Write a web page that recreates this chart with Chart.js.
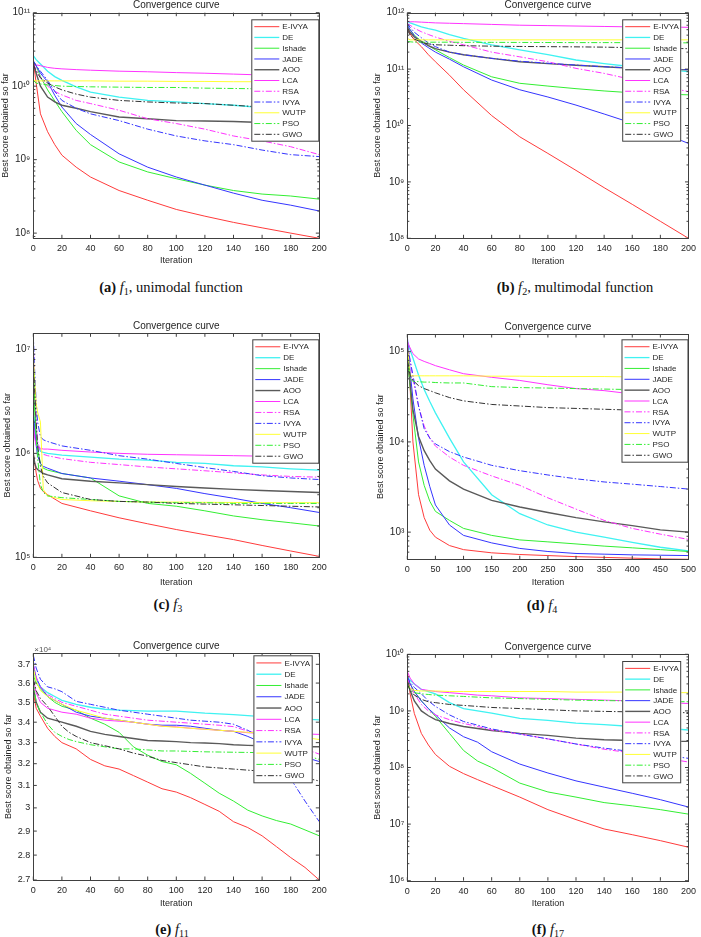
<!DOCTYPE html>
<html>
<head>
<meta charset="utf-8">
<script src="https://cdn.jsdelivr.net/npm/chart.js@4.4.1/dist/chart.umd.min.js"></script>
<style>
  html, body { margin: 0; padding: 0; background: #fff; }
  #page { position: relative; width: 701px; height: 937px; overflow: hidden; background: #fff; }
  canvas { position: absolute; }
  .cap {
    position: absolute; transform: translate(-50%, -50%); white-space: nowrap;
    font: 14.5px "Liberation Serif", "Times New Roman", serif; color: #111;
  }
  .cap sub { font-size: 0.7em; line-height: 0; vertical-align: -0.3em; }
</style>
</head>
<body>
<div id="page">
  <canvas id="cF1"></canvas>
  <canvas id="cF2"></canvas>
  <canvas id="cF3"></canvas>
  <canvas id="cF4"></canvas>
  <canvas id="cF11"></canvas>
  <canvas id="cF17"></canvas>
  <div class="cap" style="left:171px;top:287px"><b>(a)</b> <i>f</i><sub>1</sub>, unimodal function</div>
  <div class="cap" style="left:575px;top:287px"><b>(b)</b> <i>f</i><sub>2</sub>, multimodal function</div>
  <div class="cap" style="left:168px;top:604px"><b>(c)</b> <i>f</i><sub>3</sub></div>
  <div class="cap" style="left:542px;top:605px"><b>(d)</b> <i>f</i><sub>4</sub></div>
  <div class="cap" style="left:172px;top:929px"><b>(e)</b> <i>f</i><sub>11</sub></div>
  <div class="cap" style="left:548px;top:929px"><b>(f)</b> <i>f</i><sub>17</sub></div>
</div>
<script>
const seriesNames = ["E-IVYA", "DE", "Ishade", "JADE", "AOO", "LCA", "RSA", "IVYA", "WUTP", "PSO", "GWO"];

// f1
const itersF1 = [0, 2, 5, 10, 15, 20, 30, 40, 60, 80, 100, 120, 140, 160, 180, 200];
const f1EIVYA = [2.2e10, 1.1e10, 4.2e9, 2.4e9, 1.6e9, 1.15e9, 7.9e8, 5.8e8, 3.8e8, 2.8e8, 2.1e8, 1.7e8, 1.4e8, 1.18e8, 1.0e8, 8.5e7];
const f1DE = [2.6e10, 2.3e10, 2.0e10, 1.6e10, 1.35e10, 1.2e10, 9.8e9, 8.3e9, 7.1e9, 6.4e9, 6.1e9, 5.8e9, 5.5e9, 5.1e9, 4.7e9, 4.3e9];
const f1Ishade = [2.2e10, 1.9e10, 1.35e10, 8.9e9, 6.3e9, 4.5e9, 2.5e9, 1.6e9, 9.3e8, 6.8e8, 5.5e8, 4.5e8, 3.8e8, 3.4e8, 3.2e8, 2.9e8];
const f1JADE = [2.2e10, 1.9e10, 1.5e10, 1.15e10, 7.5e9, 5.2e9, 3.1e9, 2.2e9, 1.2e9, 7.9e8, 5.8e8, 4.5e8, 3.5e8, 2.8e8, 2.4e8, 2.0e8];
const f1AOO = [2.0e10, 1.5e10, 1.0e10, 7.1e9, 6.1e9, 5.5e9, 5.0e9, 4.5e9, 3.8e9, 3.6e9, 3.4e9, 3.35e9, 3.3e9, 3.2e9, 3.0e9, 2.95e9];
const f1LCA = [2.0e10, 1.95e10, 1.9e10, 1.8e10, 1.75e10, 1.72e10, 1.68e10, 1.65e10, 1.6e10, 1.57e10, 1.53e10, 1.5e10, 1.46e10, 1.42e10, 1.4e10, 1.37e10];
const f1RSA = [2.0e10, 1.7e10, 1.3e10, 1.0e10, 8.5e9, 7.6e9, 6.4e9, 5.8e9, 4.7e9, 3.6e9, 3.1e9, 2.6e9, 2.1e9, 1.8e9, 1.5e9, 1.17e9];
const f1IVYA = [2.2e10, 1.9e10, 1.6e10, 1.2e10, 8.5e9, 6.4e9, 5.0e9, 4.2e9, 3.4e9, 2.6e9, 2.1e9, 1.8e9, 1.6e9, 1.35e9, 1.17e9, 1.1e9];
const f1WUTP = [1.2e10, 1.18e10, 1.18e10, 1.18e10, 1.18e10, 1.18e10, 1.18e10, 1.18e10, 1.17e10, 1.17e10, 1.16e10, 1.16e10, 1.15e10, 1.15e10, 1.14e10, 1.13e10];
const f1PSO = [1.2e10, 1.1e10, 1.07e10, 1.04e10, 1.02e10, 1.0e10, 9.9e9, 9.8e9, 9.7e9, 9.6e9, 9.6e9, 9.4e9, 9.3e9, 9.2e9, 9.1e9, 9.0e9];
const f1GWO = [2.0e10, 1.6e10, 1.3e10, 1.1e10, 9.8e9, 8.9e9, 7.8e9, 7.1e9, 6.4e9, 6.1e9, 5.9e9, 5.8e9, 5.5e9, 5.2e9, 5.0e9, 4.9e9];

// f2
const itersF2 = [0, 2, 5, 10, 15, 20, 30, 40, 60, 80, 100, 120, 140, 160, 180, 200];
const f2EIVYA = [5.6e11, 4.2e11, 3.3e11, 2.5e11, 1.8e11, 1.35e11, 7.8e10, 4.3e10, 1.5e10, 6.3e9, 3.2e9, 1.6e9, 7.9e8, 4.0e8, 2.0e8, 1.0e8];
const f2DE = [7e11, 6.6e11, 6.2e11, 5.6e11, 5.2e11, 4.9e11, 4.1e11, 3.5e11, 2.7e11, 2.2e11, 1.8e11, 1.45e11, 1.25e11, 1.1e11, 1.0e11, 9e10];
const f2Ishade = [6e11, 5e11, 4e11, 3.1e11, 2.6e11, 2.2e11, 1.6e11, 1.18e11, 7.3e10, 5.6e10, 5e10, 4.5e10, 4.1e10, 3.8e10, 3.6e10, 3.5e10];
const f2JADE = [6e11, 5e11, 3.9e11, 2.9e11, 2.4e11, 2.0e11, 1.5e11, 1.1e11, 6.4e10, 4.3e10, 3.2e10, 2.3e10, 1.6e10, 1.1e10, 7.7e9, 4.8e9];
const f2AOO = [5.5e11, 4.5e11, 3.7e11, 3.1e11, 2.6e11, 2.3e11, 2.0e11, 1.8e11, 1.55e11, 1.35e11, 1.25e11, 1.17e11, 1.1e11, 1.03e11, 1.0e11, 9.7e10];
const f2LCA = [7e11, 6.9e11, 6.9e11, 6.8e11, 6.7e11, 6.6e11, 6.5e11, 6.4e11, 6.2e11, 6.0e11, 5.9e11, 5.8e11, 5.7e11, 5.6e11, 5.6e11, 5.5e11];
const f2RSA = [6.5e11, 6e11, 5.3e11, 4.6e11, 4.1e11, 3.7e11, 3.1e11, 2.7e11, 2.0e11, 1.65e11, 1.35e11, 1.03e11, 8.4e10, 6.5e10, 5e10, 4.0e10];
const f2IVYA = [6.5e11, 5.5e11, 4.5e11, 3.6e11, 2.9e11, 2.5e11, 2.0e11, 1.8e11, 1.55e11, 1.38e11, 1.27e11, 1.18e11, 1.1e11, 1.05e11, 1.0e11, 9.8e10];
const f2WUTP = [3.5e11, 3.3e11, 3.3e11, 3.3e11, 3.3e11, 3.3e11, 3.3e11, 3.3e11, 3.3e11, 3.3e11, 3.3e11, 3.3e11, 3.3e11, 3.3e11, 3.3e11, 3.3e11];
const f2PSO = [3.1e11, 3.05e11, 3.0e11, 3.0e11, 3.0e11, 3.0e11, 3.0e11, 2.98e11, 2.98e11, 2.97e11, 2.96e11, 2.95e11, 2.95e11, 2.94e11, 2.93e11, 2.92e11];
const f2GWO = [5e11, 4e11, 3.4e11, 3.0e11, 2.8e11, 2.7e11, 2.65e11, 2.6e11, 2.55e11, 2.52e11, 2.5e11, 2.48e11, 2.45e11, 2.4e11, 2.35e11, 2.3e11];

// f3
const itersF3 = [0, 1, 2, 3, 5, 7, 10, 20, 40, 60, 80, 100, 120, 140, 160, 180, 200];
const f3EIVYA = [1.0e6, 8e5, 6.5e5, 5.5e5, 4.6e5, 4.3e5, 4.0e5, 3.3e5, 2.8e5, 2.4e5, 2.1e5, 1.85e5, 1.65e5, 1.48e5, 1.3e5, 1.15e5, 1.02e5];
const f3DE = [2.5e6, 1.8e6, 1.4e6, 1.2e6, 1.05e6, 1.02e6, 1.0e6, 9.6e5, 9.2e5, 8.8e5, 8.6e5, 8.2e5, 8.0e5, 7.6e5, 7.4e5, 7.1e5, 6.9e5];
const f3Ishade = [5e6, 2.5e6, 1.5e6, 1.1e6, 8e5, 7.2e5, 6.9e5, 6.4e5, 5.8e5, 3.9e5, 3.3e5, 3.1e5, 2.8e5, 2.5e5, 2.3e5, 2.15e5, 2.0e5];
const f3JADE = [2.5e6, 1.6e6, 1.2e6, 9.5e5, 8e5, 7.5e5, 7.2e5, 6.4e5, 5.8e5, 5.4e5, 5.0e5, 4.6e5, 4.1e5, 3.7e5, 3.3e5, 3.0e5, 2.7e5];
const f3AOO = [1.0e6, 8e5, 7.3e5, 7e5, 6.7e5, 6.4e5, 6.2e5, 5.7e5, 5.4e5, 5.2e5, 5.0e5, 4.8e5, 4.65e5, 4.5e5, 4.4e5, 4.3e5, 4.2e5];
const f3LCA = [2e6, 1.4e6, 1.2e6, 1.15e6, 1.12e6, 1.1e6, 1.1e6, 1.07e6, 1.03e6, 1.0e6, 9.8e5, 9.7e5, 9.6e5, 9.5e5, 9.4e5, 9.35e5, 9.3e5];
const f3RSA = [1.2e7, 4e6, 2e6, 1.3e6, 1.05e6, 9.8e5, 9.5e5, 8.9e5, 8.2e5, 7.8e5, 7.4e5, 7.1e5, 6.8e5, 6.5e5, 6.2e5, 6.0e5, 5.9e5];
const f3IVYA = [1.4e7, 6e6, 3.1e6, 2e6, 1.45e6, 1.35e6, 1.3e6, 1.18e6, 1.07e6, 9.5e5, 8.8e5, 8.0e5, 7.3e5, 6.7e5, 6.1e5, 5.8e5, 5.6e5];
const f3WUTP = [9e6, 5e6, 3e6, 2.5e6, 2.0e6, 4.5e5, 3.9e5, 3.6e5, 3.5e5, 3.45e5, 3.4e5, 3.4e5, 3.38e5, 3.37e5, 3.36e5, 3.35e5, 3.35e5];
const f3PSO = [8e6, 3e6, 1.5e6, 9e5, 5e5, 4.2e5, 3.9e5, 3.75e5, 3.6e5, 3.45e5, 3.4e5, 3.35e5, 3.35e5, 3.3e5, 3.3e5, 3.3e5, 3.3e5];
const f3GWO = [7e6, 4e6, 2e6, 1.2e6, 7.5e5, 6e5, 5.2e5, 4.2e5, 3.6e5, 3.45e5, 3.4e5, 3.3e5, 3.25e5, 3.2e5, 3.15e5, 3.1e5, 3.05e5];

// f4
const itersF4 = [0, 5, 10, 20, 30, 40, 50, 75, 100, 150, 200, 250, 300, 350, 400, 450, 500];
const f4EIVYA = [1.2e5, 4e4, 1.0e4, 2.6e3, 1.45e3, 1.05e3, 880, 710, 640, 590, 565, 550, 535, 525, 515, 505, 500];
const f4DE = [1.3e5, 1.05e5, 8.5e4, 5.5e4, 3.8e4, 2.8e4, 2.1e4, 1.1e4, 6e3, 2.6e3, 1.6e3, 1.2e3, 1.0e3, 880, 770, 680, 620];
const f4Ishade = [9e4, 4e4, 2e4, 6e3, 3.3e3, 2.2e3, 1.7e3, 1.35e3, 1.1e3, 920, 820, 780, 740, 700, 670, 640, 610];
const f4JADE = [1.5e5, 6e4, 3e4, 1.1e4, 5.5e3, 3.2e3, 2.0e3, 1.2e3, 920, 760, 660, 610, 580, 570, 560, 555, 550];
const f4AOO = [9e4, 4.5e4, 2.3e4, 1.15e4, 8e3, 6.2e3, 5e3, 3.7e3, 3e3, 2.25e3, 1.9e3, 1.65e3, 1.45e3, 1.3e3, 1.18e3, 1.06e3, 1.0e3];
const f4LCA = [1.3e5, 1.1e5, 9.5e4, 8.3e4, 7.8e4, 7.4e4, 7.0e4, 6.3e4, 5.7e4, 5.2e4, 4.8e4, 4.3e4, 3.9e4, 3.7e4, 3.4e4, 3.2e4, 3.0e4];
const f4RSA = [1.2e5, 8e4, 5e4, 2.5e4, 1.5e4, 1.1e4, 9e3, 6.8e3, 5.5e3, 4.2e3, 3.3e3, 2.4e3, 1.8e3, 1.35e3, 1.1e3, 950, 830];
const f4IVYA = [1.2e5, 8e4, 5.5e4, 2.5e4, 1.4e4, 1.1e4, 9.5e3, 7.8e3, 6.8e3, 5.5e3, 4.8e3, 4.3e3, 3.9e3, 3.6e3, 3.4e3, 3.2e3, 3.0e3];
const f4WUTP = [1.2e5, 5.4e4, 5.4e4, 5.4e4, 5.4e4, 5.4e4, 5.4e4, 5.4e4, 5.4e4, 5.35e4, 5.35e4, 5.3e4, 5.3e4, 5.3e4, 5.25e4, 5.2e4, 5.2e4];
const f4PSO = [9e4, 5e4, 4.7e4, 4.65e4, 4.6e4, 4.6e4, 4.55e4, 4.5e4, 4.5e4, 4.1e4, 4.0e4, 3.95e4, 3.9e4, 3.85e4, 3.8e4, 3.75e4, 3.7e4];
const f4GWO = [8e4, 5.5e4, 4.8e4, 4.2e4, 3.9e4, 3.7e4, 3.5e4, 3.1e4, 2.85e4, 2.6e4, 2.5e4, 2.4e4, 2.35e4, 2.3e4, 2.25e4, 2.2e4, 2.2e4];

// f11
const itersF11 = [0, 2, 5, 10, 15, 20, 25, 30, 40, 50, 60, 70, 80, 90, 100, 110, 120, 130, 140, 150, 160, 170, 180, 190, 200];
const f11EIVYA = [35500, 34700, 34300, 33700, 33300, 33000, 32850, 32700, 32200, 31900, 31750, 31450, 31150, 30850, 30700, 30450, 30150, 29850, 29400, 29150, 28800, 28350, 27900, 27500, 27000];
const f11DE = [36600, 36200, 35800, 35500, 35300, 35100, 35000, 34900, 34750, 34650, 34600, 34580, 34550, 34550, 34550, 34500, 34450, 34420, 34380, 34330, 34280, 34250, 34200, 34150, 34120];
const f11Ishade = [36400, 36000, 35700, 35300, 35000, 34800, 34700, 34600, 34200, 33900, 33500, 32800, 32400, 32100, 31950, 31550, 31100, 30650, 30300, 29900, 29650, 29450, 29300, 29050, 28800];
const f11JADE = [37000, 36300, 35800, 35300, 35100, 34900, 34700, 34500, 34300, 34200, 34100, 34000, 33900, 33850, 33850, 33800, 33700, 33600, 33550, 33300, 33000, 32700, 32500, 32300, 32100];
const f11AOO = [35800, 35000, 34500, 34200, 34100, 34000, 33900, 33800, 33550, 33400, 33300, 33200, 33100, 33080, 33050, 33000, 32980, 32950, 32900, 32870, 32850, 32830, 32820, 32800, 32800];
const f11LCA = [36200, 35500, 35000, 34700, 34600, 34500, 34450, 34400, 34200, 34100, 34050, 34000, 33900, 33800, 33770, 33700, 33650, 33600, 33550, 33480, 33450, 33440, 33430, 33420, 33400];
const f11RSA = [37000, 36300, 35800, 35400, 35200, 35000, 34900, 34800, 34600, 34400, 34300, 34200, 34100, 34050, 34000, 33950, 33900, 33850, 33780, 33560, 33400, 33200, 33000, 32700, 32450];
const f11IVYA = [37500, 36800, 36200, 35800, 35700, 35550, 35300, 35050, 34900, 34750, 34600, 34500, 34400, 34300, 34200, 34100, 34050, 34000, 33900, 33600, 33200, 32600, 31300, 30300, 29400];
const f11WUTP = [36800, 36100, 35600, 35300, 35100, 34900, 34750, 34600, 34400, 34200, 34100, 34000, 33900, 33800, 33750, 33700, 33650, 33600, 33550, 33500, 33450, 33400, 33350, 33250, 33150];
const f11PSO = [36000, 35000, 34500, 33900, 33500, 33300, 33150, 33050, 32900, 32800, 32700, 32700, 32650, 32600, 32600, 32580, 32560, 32550, 32540, 32530, 32520, 32510, 32500, 32400, 32200];
const f11GWO = [36200, 35600, 35200, 34800, 34300, 33800, 33500, 33300, 33000, 32850, 32700, 32500, 32350, 32150, 32050, 31950, 31850, 31800, 31750, 31700, 31650, 31600, 31500, 31350, 31200];

// f17
const itersF17 = [0, 2, 5, 10, 15, 20, 30, 40, 50, 60, 80, 100, 120, 140, 160, 180, 200];
const f17EIVYA = [5e9, 2e9, 9e8, 4e8, 2.5e8, 1.7e8, 1.05e8, 7.8e7, 6.1e7, 4.8e7, 3e7, 1.8e7, 1.2e7, 8.2e6, 6.5e6, 5.1e6, 3.9e6];
const f17DE = [4e9, 3.5e9, 3e9, 2.4e9, 2.2e9, 2e9, 1.4e9, 1.1e9, 1.0e9, 9.1e8, 7.4e8, 6.8e8, 6.1e8, 5.7e8, 5.3e8, 5e8, 4.6e8];
const f17Ishade = [4e9, 3e9, 2.2e9, 1.5e9, 1.1e9, 8e8, 4e8, 2e8, 1.3e8, 1e8, 5.3e7, 3.7e7, 3e7, 2.4e7, 2.1e7, 1.8e7, 1.5e7];
const f17JADE = [4e9, 3e9, 2.2e9, 1.5e9, 1.1e9, 8.5e8, 5e8, 3.5e8, 2.8e8, 1.9e8, 1.15e8, 8e7, 5.8e7, 4.5e7, 3.5e7, 2.7e7, 2e7];
const f17AOO = [3.5e9, 2.3e9, 1.5e9, 1e9, 8.2e8, 7e8, 6e8, 5.3e8, 4.9e8, 4.5e8, 4e8, 3.7e8, 3.3e8, 3.1e8, 3e8, 2.9e8, 2.9e8];
const f17LCA = [5e9, 3.8e9, 3e9, 2.4e9, 2.3e9, 2.2e9, 2.1e9, 2e9, 1.9e9, 1.85e9, 1.7e9, 1.65e9, 1.6e9, 1.55e9, 1.5e9, 1.42e9, 1.35e9];
const f17RSA = [4e9, 2.8e9, 2e9, 1.3e9, 1e9, 8.5e8, 7e8, 6e8, 5.3e8, 4.6e8, 3.9e8, 3.2e8, 2.6e8, 2.1e8, 1.8e8, 1.5e8, 1.25e8];
const f17IVYA = [4e9, 3.2e9, 2.6e9, 2e9, 1.5e9, 1.2e9, 8.5e8, 6.5e8, 5.6e8, 4.8e8, 3.9e8, 3.2e8, 2.6e8, 2.2e8, 1.9e8, 1.7e8, 1.45e8];
const f17WUTP = [3e9, 2.5e9, 2.3e9, 2.25e9, 2.25e9, 2.25e9, 2.2e9, 2.2e9, 2.2e9, 2.2e9, 2.2e9, 2.2e9, 2.15e9, 2.15e9, 2.15e9, 2.1e9, 2.1e9];
const f17PSO = [3e9, 2.4e9, 2.1e9, 2e9, 1.95e9, 1.9e9, 1.85e9, 1.8e9, 1.75e9, 1.7e9, 1.65e9, 1.6e9, 1.55e9, 1.52e9, 1.5e9, 1.47e9, 1.45e9];
const f17GWO = [3e9, 2.3e9, 1.9e9, 1.6e9, 1.45e9, 1.4e9, 1.3e9, 1.25e9, 1.2e9, 1.15e9, 1.1e9, 1.05e9, 1.0e9, 9.8e8, 9.6e8, 9.4e8, 9.3e8];

// axis ticks and limits
const xTicks200 = [0, 20, 40, 60, 80, 100, 120, 140, 160, 180, 200];
const xTicks500 = [0, 50, 100, 150, 200, 250, 300, 350, 400, 450, 500];
const yTicksF1 = [1e8, 1e9, 1e10, 1e11];
const yTicksF2 = [1e8, 1e9, 1e10, 1e11, 1e12];
const yTicksF3 = [1e5, 1e6, 1e7];
const yTicksF4 = [1e3, 1e4, 1e5];
const yTicksF11 = [27000, 28000, 29000, 30000, 31000, 32000, 33000, 34000, 35000, 36000, 37000];
const yTicksF17 = [1e6, 1e7, 1e8, 1e9, 1e10];
const yRangeF1 = [8.5e7, 1e11];
const yRangeF2 = [1e8, 1e12];
const yRangeF3 = [1e5, 1.43e7];
const yRangeF4 = [500, 1.57e5];
const yRangeF11 = [27000, 37600];
const yRangeF17 = [1e6, 1e10];

// styles
const seriesColors = ["#ff3b3b", "#3ff2f2", "#33ee33", "#3535ff", "#5a5a5a", "#ff33ff", "#ff33ff", "#3535ff", "#ffff33", "#33ee33", "#333333"];
const seriesWidths = [1, 1.3, 1, 1, 1.4, 1, 1, 1, 1, 1, 1];
const seriesDashDot = [false, false, false, false, false, false, true, true, false, true, true];
const dashDot = [6, 2, 1.5, 2];
const axisColor = "#404040";
const textColor = "#262626";
const sansFont = '"Liberation Sans", Arial, Helvetica, sans-serif';

Chart.defaults.font.family = sansFont;
Chart.defaults.font.size = 9;
Chart.defaults.color = textColor;

const supDigits = { "0": "⁰", "1": "¹", "2": "²", "3": "³", "4": "⁴", "5": "⁵", "6": "⁶", "7": "⁷", "8": "⁸", "9": "⁹", "-": "⁻" };
function powLabel(v) {
  const e = Math.round(Math.log10(v));
  return "10" + String(e).split("").map(c => supDigits[c]).join("");
}

// MATLAB-like box, inward ticks, title and legend
const matlabFrame = {
  id: "matlabFrame",
  afterDraw(chart, args, opts) {
    const { ctx, chartArea: a } = chart;
    const xs = chart.scales.x, ys = chart.scales.y;
    ctx.save();
    ctx.setLineDash([]);
    ctx.lineWidth = 1;
    ctx.strokeStyle = axisColor;
    ctx.beginPath();
    xs.ticks.forEach(t => {
      const px = xs.getPixelForValue(t.value);
      ctx.moveTo(px, a.bottom); ctx.lineTo(px, a.bottom - 3.5);
      ctx.moveTo(px, a.top); ctx.lineTo(px, a.top + 3.5);
    });
    ys.ticks.forEach(t => {
      const py = ys.getPixelForValue(t.value);
      ctx.moveTo(a.left, py); ctx.lineTo(a.left + 3.5, py);
      ctx.moveTo(a.right, py); ctx.lineTo(a.right - 3.5, py);
    });
    if (opts.minor) {
      const lo = Math.floor(Math.log10(ys.min)), hi = Math.ceil(Math.log10(ys.max));
      for (let e = lo; e <= hi; e++) {
        for (let k = 2; k <= 9; k++) {
          const v = k * Math.pow(10, e);
          if (v <= ys.min || v >= ys.max) continue;
          const py = ys.getPixelForValue(v);
          ctx.moveTo(a.left, py); ctx.lineTo(a.left + 2, py);
          ctx.moveTo(a.right, py); ctx.lineTo(a.right - 2, py);
        }
      }
    }
    ctx.stroke();

    // legend box
    const lg = opts.legend;
    const bx = a.right - lg.right - lg.w, by = a.top + lg.top;
    ctx.fillStyle = "#fff";
    ctx.fillRect(bx, by, lg.w, lg.h);
    ctx.strokeStyle = axisColor;
    ctx.strokeRect(bx + 0.5, by + 0.5, lg.w - 1, lg.h - 1);
    const rows = chart.data.datasets.length;
    const rowH = (lg.h - lg.pad * 2) / rows;
    ctx.font = "8px " + sansFont;
    ctx.textBaseline = "middle";
    ctx.textAlign = "left";
    chart.data.datasets.forEach((ds, i) => {
      const ry = by + lg.pad + rowH * (i + 0.5);
      ctx.beginPath();
      ctx.strokeStyle = ds.borderColor;
      ctx.lineWidth = ds.borderWidth;
      ctx.setLineDash(ds.borderDash || []);
      ctx.moveTo(bx + 3, ry);
      ctx.lineTo(bx + 28, ry);
      ctx.stroke();
      ctx.setLineDash([]);
      ctx.fillStyle = textColor;
      ctx.fillText(ds.label, bx + 31, ry + 0.5);
    });

    // axes box
    ctx.lineWidth = 1;
    ctx.strokeStyle = axisColor;
    ctx.strokeRect(Math.round(a.left) + 0.5, Math.round(a.top) + 0.5,
      Math.round(a.right) - Math.round(a.left), Math.round(a.bottom) - Math.round(a.top));

    // title
    ctx.fillStyle = textColor;
    ctx.font = "10px " + sansFont;
    ctx.textAlign = "center";
    ctx.textBaseline = "middle";
    ctx.fillText("Convergence curve", (a.left + a.right) / 2, a.top - 7);

    if (opts.exponent) {
      ctx.font = "8px " + sansFont;
      ctx.textAlign = "left";
      ctx.textBaseline = "bottom";
      ctx.fillStyle = "#555";
      ctx.fillText(opts.exponent, a.left + 1, a.top);
    }
    ctx.restore();
  }
};

function makeChart(p) {
  const cv = document.getElementById(p.canvas);
  cv.width = p.width; cv.height = p.height;
  cv.style.left = p.left + "px"; cv.style.top = p.top + "px";
  cv.style.width = p.width + "px"; cv.style.height = p.height + "px";

  const yAxisWidth = p.area.l - p.left;
  const padRight = p.left + p.width - p.area.r;
  const padTop = p.area.t - p.top;
  const xAxisHeight = p.top + p.height - p.area.b;
  const xTitlePad = Math.max(0, p.top + p.height - p.xlabelY - 5.4);

  const datasets = seriesNames.map((name, i) => ({
    label: name,
    data: p.iters.map((it, k) => ({ x: it, y: p.values[i][k] })),
    borderColor: seriesColors[i],
    borderWidth: seriesWidths[i],
    borderDash: seriesDashDot[i] ? dashDot : [],
    pointRadius: 0,
    fill: false,
    tension: 0,
    order: seriesNames.length - i,
  }));

  return new Chart(cv.getContext("2d"), {
    type: "line",
    data: { datasets: datasets },
    options: {
      responsive: false,
      animation: false,
      events: [],
      layout: { padding: { left: 0, top: padTop, right: padRight, bottom: 0 } },
      scales: {
        x: {
          type: "linear",
          min: p.xTicks[0],
          max: p.xTicks[p.xTicks.length - 1],
          afterBuildTicks: s => { s.ticks = p.xTicks.map(v => ({ value: v })); },
          afterFit: s => { s.height = xAxisHeight; },
          ticks: { padding: 5, maxRotation: 0, autoSkip: false, color: textColor },
          grid: { display: false, drawTicks: false },
          border: { display: false },
          title: { display: true, text: "Iteration", padding: { top: 0, bottom: xTitlePad }, color: textColor },
        },
        y: {
          type: "logarithmic",
          min: p.yRange[0],
          max: p.yRange[1],
          afterBuildTicks: s => { s.ticks = p.yTicks.map(v => ({ value: v })); },
          afterFit: s => { s.width = yAxisWidth; },
          ticks: { padding: 3, autoSkip: false, color: textColor, callback: p.yFormat, font: { size: p.yFontSize } },
          grid: { display: false, drawTicks: false },
          border: { display: false },
          title: { display: true, text: "Best score obtained so far", padding: 0, color: textColor },
        },
      },
      plugins: {
        legend: { display: false },
        tooltip: { enabled: false },
        matlabFrame: { legend: p.legend, minor: p.minor, exponent: p.exponent },
      },
    },
    plugins: [matlabFrame],
  });
}

const panels = [
  {
    canvas: "cF1", left: 0, top: 0, width: 345, height: 269,
    area: { l: 33.3, r: 319.3, t: 12.7, b: 238.3 }, xlabelY: 261,
    iters: itersF1,
    values: [f1EIVYA, f1DE, f1Ishade, f1JADE, f1AOO, f1LCA, f1RSA, f1IVYA, f1WUTP, f1PSO, f1GWO],
    xTicks: xTicks200, yTicks: yTicksF1, yRange: yRangeF1, yFormat: powLabel, yFontSize: 10, minor: true,
    legend: { w: 68, right: 0, top: 6.6, h: 122.4, pad: 2 },
  },
  {
    canvas: "cF2", left: 372, top: 0, width: 329, height: 269,
    area: { l: 407.3, r: 693.3, t: 12.7, b: 238.3 }, xlabelY: 261.5,
    iters: itersF2,
    values: [f2EIVYA, f2DE, f2Ishade, f2JADE, f2AOO, f2LCA, f2RSA, f2IVYA, f2WUTP, f2PSO, f2GWO],
    xTicks: xTicks200, yTicks: yTicksF2, yRange: yRangeF2, yFormat: powLabel, yFontSize: 10, minor: true,
    legend: { w: 59, right: 7.3, top: 6.6, h: 122.4, pad: 2 },
  },
  {
    canvas: "cF3", left: 2, top: 310, width: 343, height: 280,
    area: { l: 33.3, r: 319.3, t: 333.3, b: 557.3 }, xlabelY: 582.7,
    iters: itersF3,
    values: [f3EIVYA, f3DE, f3Ishade, f3JADE, f3AOO, f3LCA, f3RSA, f3IVYA, f3WUTP, f3PSO, f3GWO],
    xTicks: xTicks200, yTicks: yTicksF3, yRange: yRangeF3, yFormat: powLabel, yFontSize: 10, minor: true,
    legend: { w: 67, right: 0, top: 6, h: 124.4, pad: 2 },
  },
  {
    canvas: "cF4", left: 375, top: 310, width: 326, height: 280,
    area: { l: 407.3, r: 693.3, t: 334, b: 559.3 }, xlabelY: 582.7,
    iters: itersF4,
    values: [f4EIVYA, f4DE, f4Ishade, f4JADE, f4AOO, f4LCA, f4RSA, f4IVYA, f4WUTP, f4PSO, f4GWO],
    xTicks: xTicks500, yTicks: yTicksF4, yRange: yRangeF4, yFormat: powLabel, yFontSize: 10, minor: true,
    legend: { w: 67, right: 0, top: 5.3, h: 123.4, pad: 2 },
  },
  {
    canvas: "cF11", left: 3, top: 620, width: 342, height: 291,
    area: { l: 33.3, r: 319.3, t: 653.3, b: 880 }, xlabelY: 904,
    iters: itersF11,
    values: [f11EIVYA, f11DE, f11Ishade, f11JADE, f11AOO, f11LCA, f11RSA, f11IVYA, f11WUTP, f11PSO, f11GWO],
    xTicks: xTicks200, yTicks: yTicksF11, yRange: yRangeF11, yFormat: v => String(v / 1e4), yFontSize: 9, minor: false,
    exponent: "×10⁴",
    legend: { w: 59.3, right: 6.6, top: 2, h: 128, pad: 2 },
  },
  {
    canvas: "cF17", left: 372, top: 620, width: 329, height: 291,
    area: { l: 407.3, r: 693.3, t: 654.3, b: 880.7 }, xlabelY: 904,
    iters: itersF17,
    values: [f17EIVYA, f17DE, f17Ishade, f17JADE, f17AOO, f17LCA, f17RSA, f17IVYA, f17WUTP, f17PSO, f17GWO],
    xTicks: xTicks200, yTicks: yTicksF17, yRange: yRangeF17, yFormat: powLabel, yFontSize: 10, minor: true,
    legend: { w: 59, right: 7.3, top: 6.7, h: 122.3, pad: 2 },
  },
];

panels.forEach(makeChart);
</script>
</body>
</html>
